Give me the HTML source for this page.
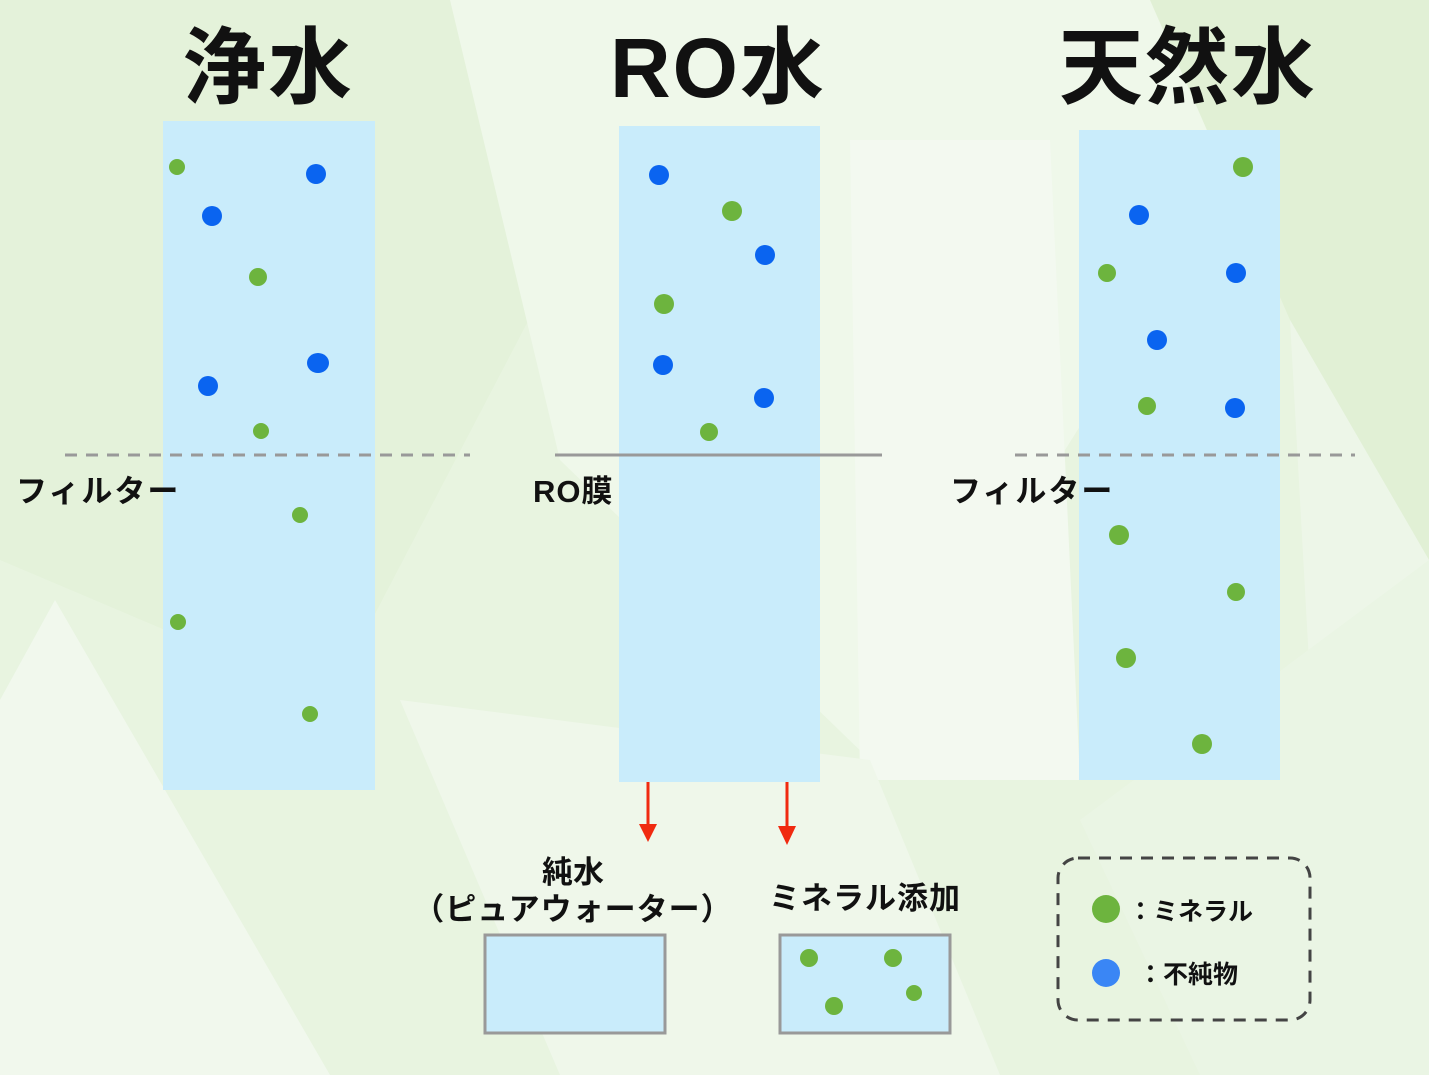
<!DOCTYPE html>
<html><head><meta charset="utf-8"><style>
html,body{margin:0;padding:0;width:1429px;height:1075px;overflow:hidden;background:#eaf5e2}
svg{display:block}
text{font-family:"Liberation Sans","Noto Sans CJK JP",sans-serif;font-weight:bold;fill:#111}
</style></head><body>
<svg width="1429" height="1075" viewBox="0 0 1429 1075">
<rect width="1429" height="1075" fill="#e8f4e0"/>
<polygon points="0,0 480,0 560,260 330,700 0,560" fill="#e4f2da"/>
<polygon points="450,0 1150,0 1260,140 870,760 560,460" fill="#eff8ea"/>
<polygon points="850,140 1050,140 1080,780 860,780" fill="#f3f9f0"/>
<polygon points="1150,0 1429,0 1429,560 1290,320" fill="#e1f0d5"/>
<polygon points="1290,320 1429,560 1429,1075 1200,1075 1320,860" fill="#edf6e8"/>
<polygon points="0,700 55,600 330,1075 0,1075" fill="#f1f8ed"/>
<polygon points="400,700 870,760 1000,1075 560,1075" fill="#eff7ea"/>
<polygon points="1080,820 1429,560 1429,1075 1200,1075" fill="#eaf5e4"/>

<text x="268" y="97" font-size="84" text-anchor="middle" letter-spacing="2">浄水</text>
<text x="718" y="97" font-size="84" text-anchor="middle" letter-spacing="2">RO水</text>
<text x="1188" y="97" font-size="84" text-anchor="middle" letter-spacing="2">天然水</text>

<rect x="163" y="121" width="212" height="669" fill="#c9ecfb"/>
<rect x="619" y="126" width="201" height="656" fill="#c9ecfb"/>
<rect x="1079" y="130" width="201" height="650" fill="#c9ecfb"/>

<g fill="#0a64f0">
<ellipse cx="316" cy="174" rx="10" ry="10"/><ellipse cx="212" cy="216" rx="10" ry="10"/>
<ellipse cx="318" cy="363" rx="11" ry="10"/><ellipse cx="208" cy="386" rx="10" ry="10"/>
<ellipse cx="659" cy="175" rx="10" ry="10"/><ellipse cx="765" cy="255" rx="10" ry="10"/>
<ellipse cx="663" cy="365" rx="10" ry="10"/><ellipse cx="764" cy="398" rx="10" ry="10"/>
<ellipse cx="1139" cy="215" rx="10" ry="10"/><ellipse cx="1236" cy="273" rx="10" ry="10"/>
<ellipse cx="1157" cy="340" rx="10" ry="10"/><ellipse cx="1235" cy="408" rx="10" ry="10"/>
</g>
<g fill="#6db43e">
<circle cx="177" cy="167" r="8"/><circle cx="258" cy="277" r="9"/><circle cx="261" cy="431" r="8"/>
<circle cx="300" cy="515" r="8"/><circle cx="178" cy="622" r="8"/><circle cx="310" cy="714" r="8"/>
<circle cx="732" cy="211" r="10"/><circle cx="664" cy="304" r="10"/><circle cx="709" cy="432" r="9"/>
<circle cx="1243" cy="167" r="10"/><circle cx="1107" cy="273" r="9"/><circle cx="1147" cy="406" r="9"/>
<circle cx="1119" cy="535" r="10"/><circle cx="1236" cy="592" r="9"/><circle cx="1126" cy="658" r="10"/>
<circle cx="1202" cy="744" r="10"/>
</g>

<line x1="65" y1="455" x2="470" y2="455" stroke="#999" stroke-width="3" stroke-dasharray="12,9"/>
<line x1="555" y1="455" x2="882" y2="455" stroke="#999" stroke-width="3"/>
<line x1="1015" y1="455" x2="1355" y2="455" stroke="#999" stroke-width="3" stroke-dasharray="12,9"/>

<text x="16" y="502" font-size="31" letter-spacing="2">フィルター</text>
<text x="533" y="502" font-size="31" letter-spacing="1">RO膜</text>
<text x="950" y="502" font-size="31" letter-spacing="2">フィルター</text>

<line x1="648" y1="782" x2="648" y2="826" stroke="#f02a10" stroke-width="3"/>
<polygon points="639,824 657,824 648,842" fill="#f02a10"/>
<line x1="787" y1="782" x2="787" y2="828" stroke="#f02a10" stroke-width="3"/>
<polygon points="778,826 796,826 787,845" fill="#f02a10"/>

<text x="573" y="883" font-size="31" text-anchor="middle">純水</text>
<text x="573" y="920" font-size="31" text-anchor="middle" letter-spacing="1">（ピュアウォーター）</text>
<text x="865" y="909" font-size="31" text-anchor="middle" letter-spacing="1">ミネラル添加</text>

<rect x="485" y="935" width="180" height="98" fill="#c9ecfb" stroke="#999" stroke-width="3"/>
<rect x="780" y="935" width="170" height="98" fill="#c9ecfb" stroke="#999" stroke-width="3"/>
<g fill="#6db43e"><circle cx="809" cy="958" r="9"/><circle cx="893" cy="958" r="9"/><circle cx="914" cy="993" r="8"/><circle cx="834" cy="1006" r="9"/></g>

<rect x="1058" y="858" width="252" height="162" rx="20" fill="none" stroke="#444" stroke-width="3" stroke-dasharray="12,9"/>
<circle cx="1106" cy="909" r="14" fill="#6db43e"/>
<circle cx="1106" cy="973" r="14" fill="#3a86f5"/>
<text x="1128" y="920" font-size="25">：ミネラル</text>
<text x="1138" y="983" font-size="25">：不純物</text>
</svg>
</body></html>
